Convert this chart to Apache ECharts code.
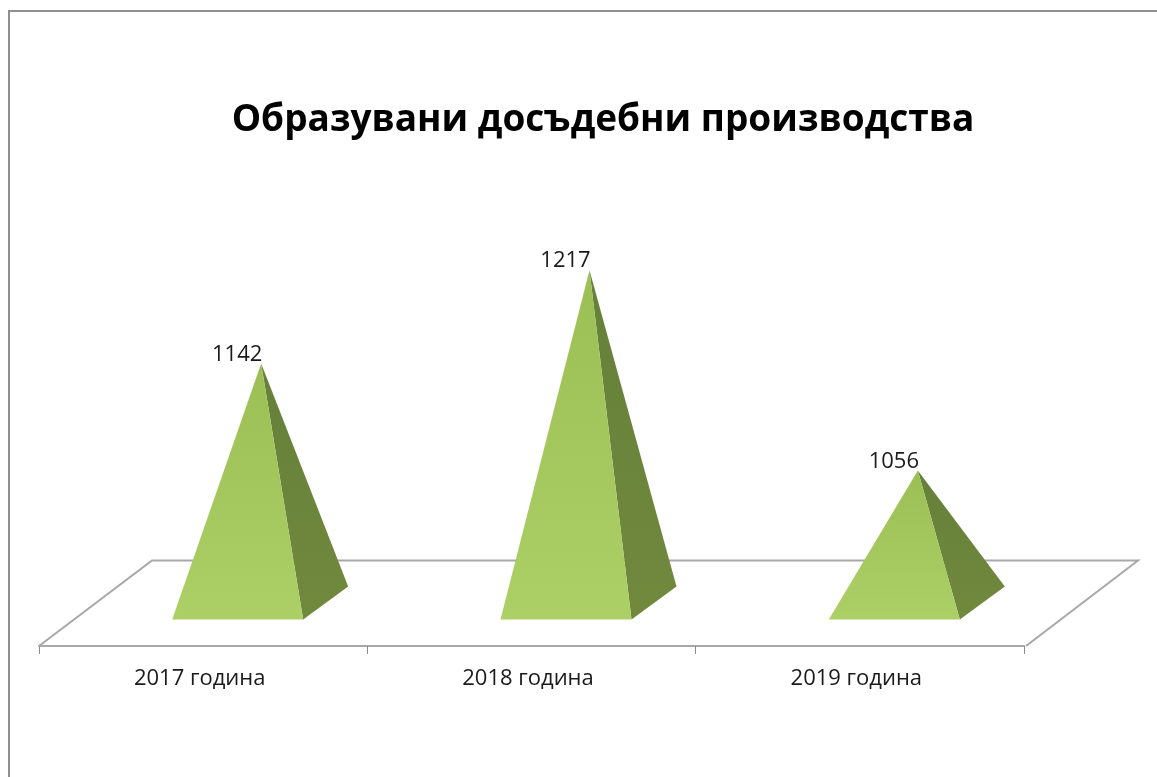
<!DOCTYPE html>
<html><head><meta charset="utf-8">
<style>html,body{margin:0;padding:0;background:#fff}#c{width:1157px;height:777px}</style>
<script src="https://cdn.jsdelivr.net/npm/echarts@6/dist/echarts.min.js"></script>
</head><body><div id="c"></div>
<script>
const chartTitle = 'Образувани досъдебни производства';
const categories = ['2017 година', '2018 година', '2019 година'];
const values = [1142, 1217, 1056];

const chart = echarts.init(document.getElementById('c'), null, {renderer: 'canvas'});
const FONT = '"Open Sans", "DejaVu Sans", sans-serif';

function renderFloor(params, api) {
  const g = params.coordSys;
  const bottom = g.y + g.height, right = g.x + g.width;
  return {
    type: 'polyline',
    shape: {points: [[g.x, bottom], [g.x + 113, bottom - 85.5], [right + 114, bottom - 85.5], [right + 2, bottom]]},
    style: {fill: null, stroke: '#a8a8a8', lineWidth: 2},
    silent: true, z2: 0
  };
}

function renderPyramid(params, api) {
  const top = api.coord([api.value(0), api.value(1)]);
  const origin = api.coord([api.value(0), 915]);
  const cx = origin[0], baseY = origin[1] - 26.5;
  const apex = [cx + 58, top[1]];
  const fl = [cx - 31, baseY], fr = [cx + 100, baseY], br = [cx + 145, baseY - 33];
  return {
    type: 'group',
    children: [
      {type: 'polygon', shape: {points: [apex, fr, br]},
       style: {fill: {type: 'linear', x: 0, y: 0, x2: 0, y2: 1, colorStops: [{offset: 0, color: '#65803a'}, {offset: 1, color: '#71893d'}]}}},
      {type: 'polygon', shape: {points: [apex, fl, fr]},
       style: {fill: {type: 'linear', x: 0, y: 0, x2: 0, y2: 1, colorStops: [{offset: 0, color: '#9bbf55'}, {offset: 1, color: '#accf66'}]}}},
      {type: 'text', x: apex[0] - 24, y: apex[1] - 9,
       style: {text: String(api.value(1)), fill: '#1a1a1a', font: '22px ' + FONT, align: 'center', verticalAlign: 'middle'}}
    ]
  };
}

chart.setOption({
  animation: false,
  backgroundColor: '#fff',
  title: {text: chartTitle, left: 598, top: 97, textAlign: 'center',
    textStyle: {fontFamily: FONT, fontSize: 37, fontWeight: 'bold', color: '#000'}},
  grid: {left: 39, right: 133, top: 198, bottom: 131},
  xAxis: {type: 'category', data: categories, boundaryGap: true,
    axisLine: {show: true, lineStyle: {color: '#a8a8a8', width: 2}},
    axisTick: {show: true, alignWithLabel: false, length: 8, lineStyle: {color: '#8c8c8c', width: 1}},
    axisLabel: {color: '#1a1a1a', fontFamily: FONT, fontSize: 22, margin: 22, padding: [0, 7, 0, 0]}},
  yAxis: {type: 'value', min: 915, max: 1275, show: false, splitLine: {show: false}},
  graphic: [
    {type: 'polyline', shape: {points: [[9, 777], [9, 11], [1157, 11]]}, style: {fill: null, stroke: '#8f8f8f', lineWidth: 2}, silent: true}
  ],
  series: [
    {type: 'custom', renderItem: renderFloor, data: [[0, 915]], z: 1, silent: true},
    {type: 'custom', renderItem: renderPyramid, z: 3, silent: true,
      encode: {x: 0, y: 1},
      data: values.map((v, i) => [i, v])}
  ]
});
</script></body></html>
